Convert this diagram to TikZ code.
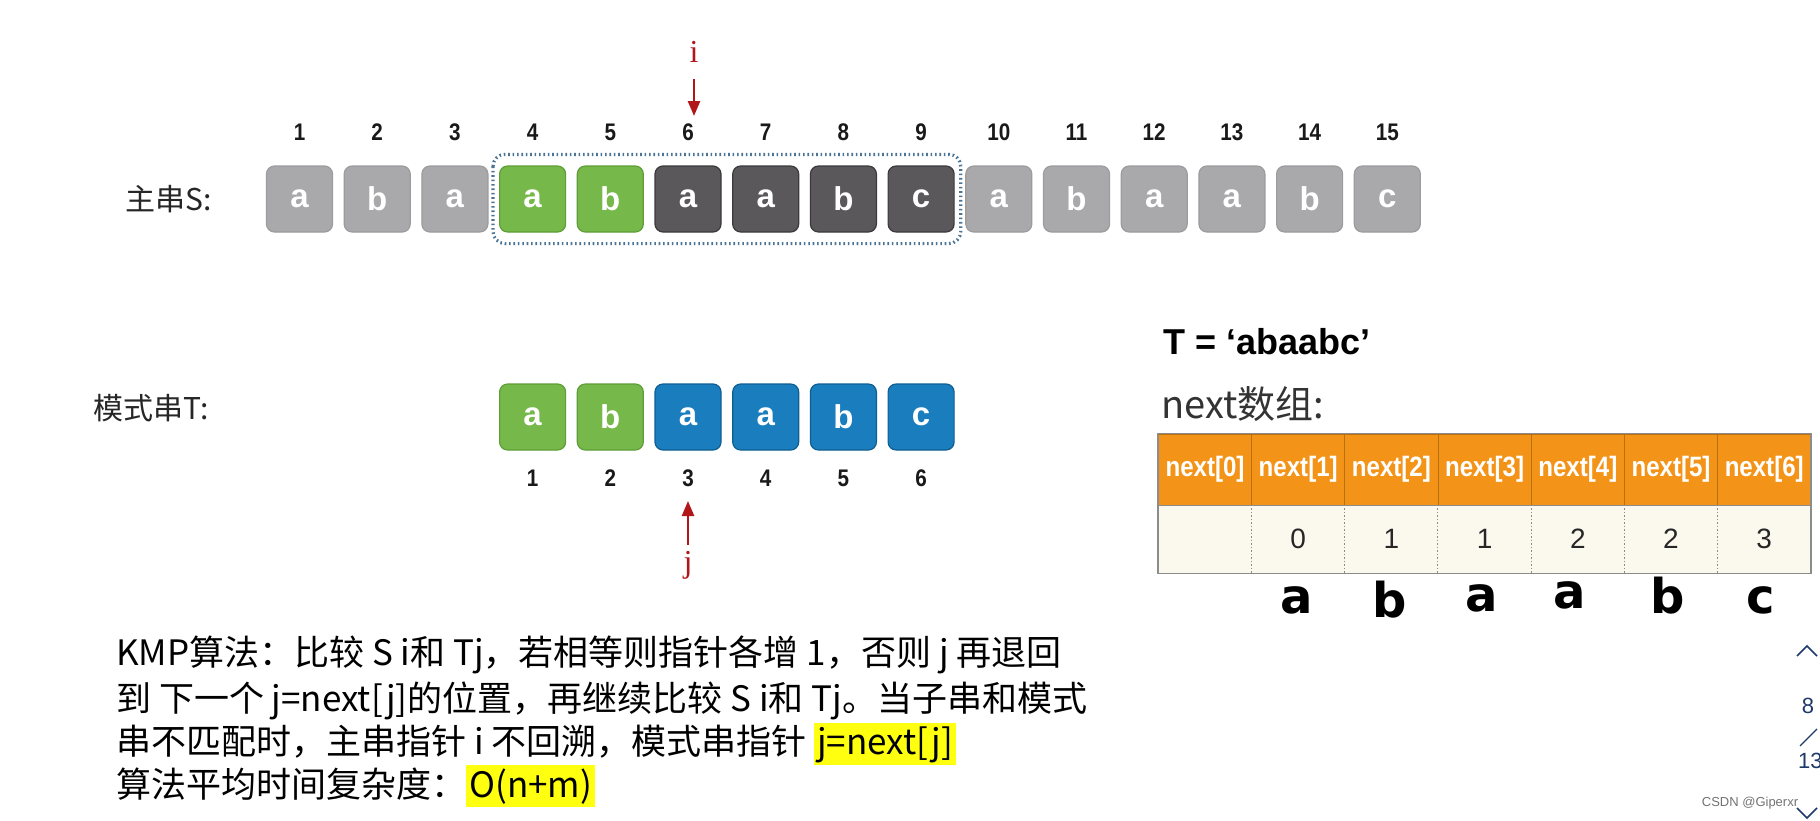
\documentclass[tikz,border=0pt]{standalone}
\usepackage{fontspec}
\setmainfont{Liberation Sans}
\newfontfamily\cjk{Noto Sans CJK SC}
\newfontfamily\serifrm{Liberation Serif}
\newfontfamily\narrow[FakeStretch=0.86]{Liberation Sans}
\newfontfamily\bigsans{DejaVu Sans}
\usetikzlibrary{arrows.meta, positioning, calc}

\definecolor{plaingrey}{HTML}{A9A8AB}
\definecolor{plainline}{HTML}{9C9B9E}
\definecolor{matchgreen}{HTML}{77B84A}
\definecolor{matchline}{HTML}{5E9E36}
\definecolor{faildark}{HTML}{5B585C}
\definecolor{failline}{HTML}{3B393C}
\definecolor{patblue}{HTML}{1A7EBE}
\definecolor{patline}{HTML}{0F5E92}
\definecolor{ptrred}{HTML}{B0161A}
\definecolor{dotblue}{HTML}{4A7496}
\definecolor{hdrorange}{HTML}{F39419}
\definecolor{hdrline}{HTML}{B86F10}
\definecolor{bodycream}{HTML}{FBF8EE}
\definecolor{tableline}{HTML}{8C8C8C}
\definecolor{hlyellow}{HTML}{FFFF10}
\definecolor{navblue}{HTML}{1E3A6B}

\newcommand{\hl}[1]{{\setlength{\fboxsep}{3pt}\colorbox{hlyellow}{#1}}}

\begin{document}
\begin{tikzpicture}[x=1pt,y=-1pt,
    box/.style={minimum width=66pt,minimum height=66pt,inner sep=0pt,rounded corners=8pt,line width=1.2pt,text=white,font=\fontsize{33}{33}\selectfont\bfseries},
    plainbox/.style={box,fill=plaingrey,draw=plainline},
    matchbox/.style={box,fill=matchgreen,draw=matchline},
    failbox/.style={box,fill=faildark,draw=failline},
    patbox/.style={box,fill=patblue,draw=patline},
    idx/.style={font=\narrow\bfseries\fontsize{24}{24}\selectfont,text=black!90},
    ptr/.style={draw=ptrred,line width=2.5pt,-{Triangle[length=15pt,width=12pt]}},
    ptrlab/.style={text=ptrred,font=\serifrm\fontsize{32}{32}\selectfont},
    strlab/.style={font=\cjk\fontsize{30}{30}\selectfont,text=black!85,anchor=west},
    hdr/.style={minimum width=93.2pt,minimum height=71pt,inner sep=0pt,fill=hdrorange,draw=hdrline,line width=1pt,text=white,font=\narrow\bfseries\fontsize{28}{28}\selectfont},
    val/.style={minimum width=93.2pt,minimum height=68pt,inner sep=0pt,fill=bodycream,font=\fontsize{28}{28}\selectfont,text=black!85},
    bigch/.style={font=\bigsans\bfseries\fontsize{48}{48}\selectfont,anchor=base},
    para/.style={font=\cjk\fontsize{35}{44}\selectfont,inner sep=0pt,anchor=base west}]

    \fill[white] (0,0) rectangle (1820,820);
    \useasboundingbox (0,0) rectangle (1820,820);

    % main string S
    \node[strlab] (slab) at (122,199) {主串S:};
    \foreach \c/\st [count=\k] in {a/plainbox,b/plainbox,a/plainbox,a/matchbox,b/matchbox,a/failbox,a/failbox,b/failbox,c/failbox,a/plainbox,b/plainbox,a/plainbox,a/plainbox,b/plainbox,c/plainbox}{
        \node[\st] (s\k) at ({299.5+(\k-1)*77.7},199) {\c};
        \node[idx] (sn\k) at (s\k |- 0,132) {\k};
    }
    \draw[dotblue,line width=3.2pt,dash pattern=on 1.6pt off 2.8pt,rounded corners=12pt]
        ([shift={(-6pt,11pt)}]s4.north west) rectangle ([shift={(6pt,-11pt)}]s9.south east);

    % pointer i
    \node[ptrlab] (ilab) at (694,52) {i};
    \coordinate (itail) at (694,79);
    \coordinate (itip) at (694,116);
    \draw[ptr] (itail) -- (itip);

    % pattern T
    \node[strlab] (tlab) at (90,408) {模式串T:};
    \foreach \c/\st [count=\k] in {a/matchbox,b/matchbox,a/patbox,a/patbox,b/patbox,c/patbox}{
        \node[\st] (t\k) at ({299.5+(\k+2)*77.7},417) {\c};
        \node[idx] (tn\k) at (t\k |- 0,478) {\k};
    }

    % pointer j
    \coordinate (jtail) at (688,545);
    \coordinate (jtip) at (688,501);
    \draw[ptr] (jtail) -- (jtip);
    \node[ptrlab] (jlab) at (688,565) {j};

    % next table
    \node[anchor=base west,font=\bfseries\fontsize{36}{36}\selectfont,inner sep=0pt] (tdef) at (1163,354) {T = ‘abaabc’};
    \node[anchor=base west,font=\cjk\fontsize{38}{38}\selectfont,text=black!80,inner sep=0pt] (ntitle) at (1161,418) {next数组:};
    \foreach \v [count=\k from 0] in {,0,1,1,2,2,3}{
        \node[hdr] (h\k) at ({1158.4+(\k+0.5)*93.2},469.5) {next[\k]};
        \node[val] (v\k) at (h\k |- 0,539) {\v};
    }
    \foreach \k in {1,...,6}
        \draw[tableline,line width=1pt,dash pattern=on 1.5pt off 2pt] (v\k.north west) -- (v\k.south west);
    \draw[tableline,line width=1.2pt] (h0.north west) rectangle (v6.south east);
    \draw[tableline,line width=1pt] (h0.south west) -- (h6.south east);

    % letters of T
    \node[bigch] (c1) at (1297,613) {a};
    \node[bigch] (c2) at (1390,617) {b};
    \node[bigch] (c3) at (1482,611) {a};
    \node[bigch] (c4) at (1570,608) {a};
    \node[bigch] (c5) at (1668,613) {b};
    \node[bigch] (c6) at (1761,613) {c};

    % explanation
    \node[para] (p1) at (116,665) {KMP算法：比较 S i和 Tj，若相等则指针各增 1，否则 j 再退回};
    \node[para] (p2) at (116,711) {到 下一个 j=next[j]的位置，再继续比较 S i和 Tj。当子串和模式};
    \node[para] (p3) at (116,754) {串不匹配时，主串指针 i 不回溯，模式串指针 \hl{j=next[j]}};
    \node[para] (p4) at (116,797) {算法平均时间复杂度：\hl{O(n+m)}};

    % page marks
    \draw[navblue,line width=1.5pt] (1797,656) -- (1807,646) -- (1817,656);
    \node[text=navblue,font=\fontsize{22}{22}\selectfont] (pg) at (1808,706) {8};
    \draw[navblue,line width=1.2pt] (1800,746) -- (1817,729);
    \node[text=navblue,font=\fontsize{22}{22}\selectfont,anchor=west,inner sep=0pt] (pgall) at (1798,761) {13};
    \draw[navblue,line width=1.5pt] (1797,808) -- (1807,818) -- (1817,808);
    \node[text=black!55,font=\fontsize{13}{13}\selectfont] (mark) at (1750,803) {CSDN @Giperxr};
\end{tikzpicture}
\end{document}
